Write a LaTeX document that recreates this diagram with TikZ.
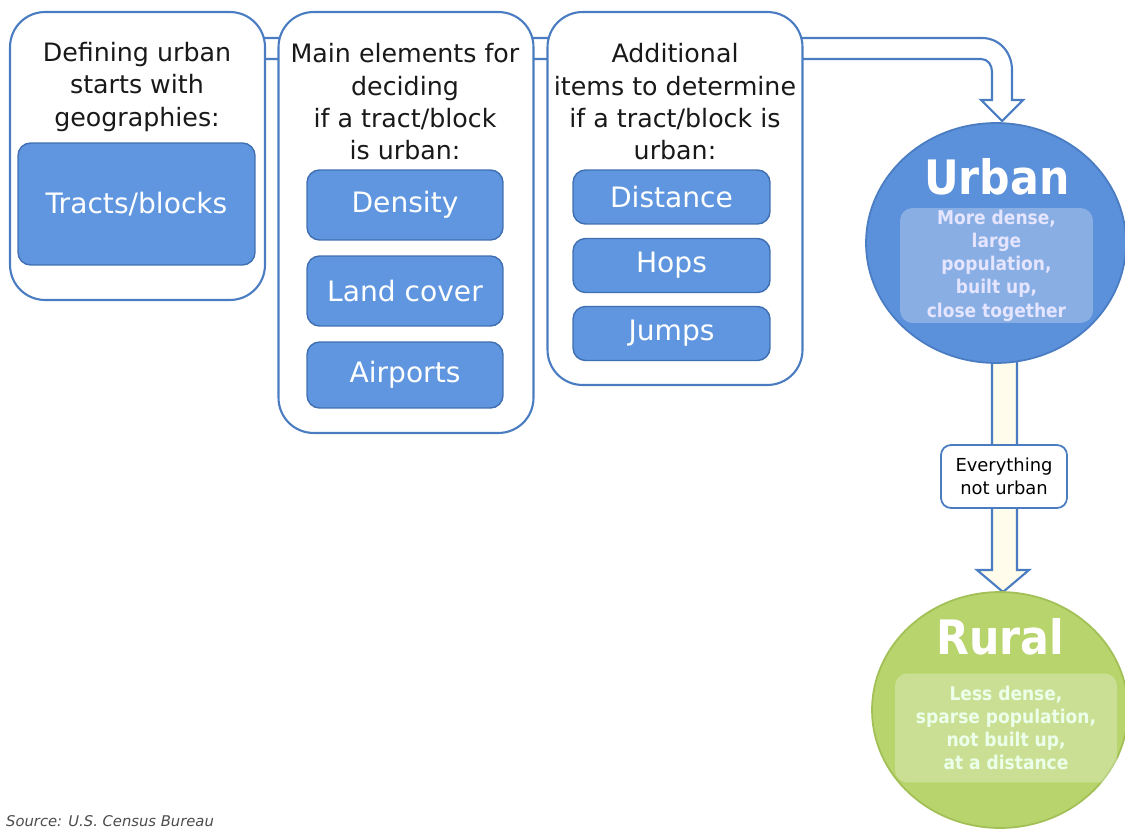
\documentclass[tikz,border=0pt]{standalone}
\usepackage{fontspec}
\setmainfont{DejaVu Sans}
\newfontfamily\condfont{DejaVu Sans Condensed}
\usetikzlibrary{shapes.geometric}

\definecolor{boxline}{HTML}{4A7CC2}
\definecolor{itemfill}{HTML}{5F96DF}
\definecolor{itemline}{HTML}{3F6FB0}
\definecolor{urbanfill}{HTML}{5B90DA}
\definecolor{urbanline}{HTML}{4A7CC2}
\definecolor{ruralfill}{HTML}{B8D46C}
\definecolor{ruralline}{HTML}{A2C056}
\definecolor{shaftfill}{HTML}{FFFCEB}

\tikzset{
  outerbox/.style={draw=boxline, line width=1.2pt, fill=white, rounded corners=0.7cm, minimum width=5.1cm},
  itembox/.style={draw=itemline, line width=0.8pt, fill=itemfill, rounded corners=0.25cm, text=white, inner sep=0pt,
    font=\fontsize{16}{19}\selectfont},
  headtext/.style={align=center, text=black!90, font=\fontsize{14.4}{18.4}\selectfont},
  bigtext/.style={text=white, font=\condfont\bfseries\fontsize{27}{30}\selectfont},
  desctext/.style={align=center, rounded corners=0.25cm, inner sep=0pt, fill=white, fill opacity=0.28,
    text opacity=1, font=\condfont\bfseries\fontsize{10.8}{13.2}\selectfont},
  blockarrow/.style={draw=boxline, line width=1.2pt}
}

\begin{document}
\begin{tikzpicture}[x=0.02cm, y=-0.02cm]
  \useasboundingbox (0,0) rectangle (1125,831);
  \clip (0,0) rectangle (1125,831);
  % wide arrow along the top, behind the boxes
  \draw[blockarrow, fill=white] (250,38) -- (982,38) .. controls (999,38) and (1012,52) .. (1012,70)
    -- (1012,100) -- (1023,100) -- (1002,121) -- (981,100) -- (992,100) -- (992,72)
    .. controls (992,65) and (988,59) .. (981,59) -- (250,59) -- cycle;
  % arrow from urban down to rural
  \draw[blockarrow, fill=shaftfill] (992,340) -- (992,570) -- (977,570) -- (1003,592) -- (1029,570)
    -- (1017,570) -- (1017,340) -- cycle;
  %
  \node[outerbox, minimum height=5.76cm] (geo) at (137.5,156) {};
  \node[outerbox, minimum height=8.42cm] (main) at (406,222.5) {};
  \node[outerbox, minimum height=7.46cm] (extra) at (675,198.5) {};
  %
  \node[headtext] (geoT) at (137,87) {Defining urban\\starts with\\geographies:};
  \node[headtext] (mainT) at (405,102) {Main elements for\\deciding\\if a tract/block\\is urban:};
  \node[headtext] (extraT) at (675,102) {Additional\\items to determine\\if a tract/block is\\urban:};
  %
  \node[itembox, minimum width=4.74cm, minimum height=2.44cm] (tracts) at (136.5,204) {Tracts/blocks};
  \node[itembox, minimum width=3.92cm, minimum height=1.4cm] (density) at (405,205) {Density};
  \node[itembox, minimum width=3.92cm, minimum height=1.4cm] (land) at (405,291) {Land cover};
  \node[itembox, minimum width=3.92cm, minimum height=1.32cm] (airports) at (405,375) {Airports};
  \node[itembox, minimum width=3.94cm, minimum height=1.08cm] (distance) at (671.5,197) {Distance};
  \node[itembox, minimum width=3.94cm, minimum height=1.08cm] (hops) at (671.5,265.5) {Hops};
  \node[itembox, minimum width=3.94cm, minimum height=1.08cm] (jumps) at (671.5,333.5) {Jumps};
  %
  \node[ellipse, draw=urbanline, line width=1pt, fill=urbanfill, minimum width=5.2cm, minimum height=4.8cm] (urban) at (996,243) {};
  \node[bigtext] (urbanT) at (997,177) {Urban};
  \node[desctext, text=white!90!blue, minimum width=3.86cm, minimum height=2.3cm] (urbanD) at (996.5,265.5)
    {More dense,\\large\\population,\\built up,\\close together};
  %
  \node[ellipse, draw=ruralline, line width=1pt, fill=ruralfill, minimum width=5.12cm, minimum height=4.72cm] (rural) at (1000,710) {};
  \node[bigtext] (ruralT) at (1000,637) {Rural};
  \node[desctext, text=white!92!green, minimum width=4.44cm, minimum height=2.18cm] (ruralD) at (1006,728)
    {Less dense,\\sparse population,\\not built up,\\at a distance};
  %
  \node[draw=boxline, line width=1pt, fill=white, rounded corners=0.2cm, align=center, inner sep=0pt,
    minimum width=2.52cm, minimum height=1.26cm, font=\fontsize{10.2}{13}\selectfont] (notU) at (1004,476.5)
    {Everything\\not urban};
  %
  \node[anchor=base west, text=black!70, font=\itshape\fontsize{8.4}{10}\selectfont] (src) at (0,826)
    {Source: U.S. Census Bureau};
\end{tikzpicture}
\end{document}
